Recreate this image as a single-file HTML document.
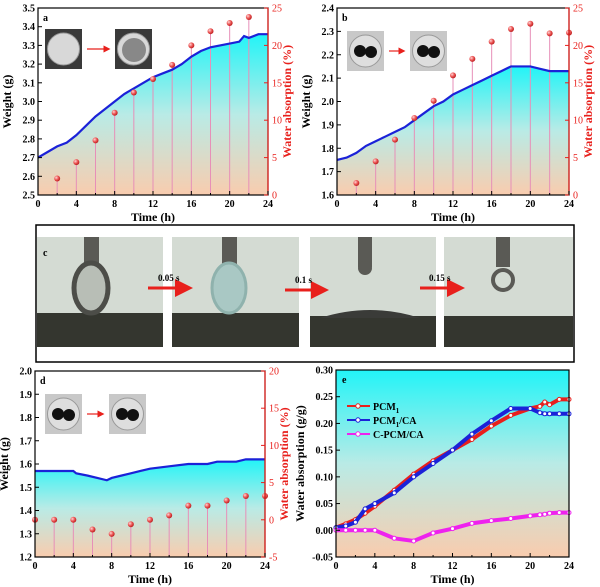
<!DOCTYPE html>
<html><head><meta charset="utf-8"><style>
body{margin:0;background:#fff;}
svg{display:block;font-family:"Liberation Serif",serif;}
</style></head><body>
<svg id="fig" width="600" height="587" viewBox="0 0 600 587" xmlns="http://www.w3.org/2000/svg">
<defs>
<linearGradient id="gA" x1="0" y1="0" x2="0" y2="1"><stop offset="0" stop-color="#22f4f7"/><stop offset="0.5" stop-color="#b9ebe6"/><stop offset="1" stop-color="#f9ccae"/></linearGradient>
<radialGradient id="ball" cx="0.35" cy="0.35" r="0.7"><stop offset="0" stop-color="#ffd6d6"/><stop offset="0.5" stop-color="#ee5a5a"/><stop offset="1" stop-color="#b81818"/></radialGradient>
<marker id="ah" markerWidth="6" markerHeight="6" refX="3" refY="3" orient="auto"><path d="M0,0 L6,3 L0,6 z" fill="#e8201c"/></marker>
</defs>
<g id="panelC">
<rect x="36" y="225" width="538" height="137" fill="#fff" stroke="#000" stroke-width="1.5"/>
<g><rect x="37" y="237" width="126" height="110" fill="#d4dbd3"/><rect x="37" y="313" width="126" height="34" fill="#34362f"/><rect x="84" y="237" width="15" height="32" fill="#5a5a55"/><ellipse cx="91" cy="288" rx="17" ry="25" fill="#b8beb6" stroke="#4c4d48" stroke-width="5"/></g>
<g><rect x="172" y="237" width="127" height="110" fill="#d4dbd3"/><rect x="172" y="313" width="127" height="34" fill="#34362f"/><rect x="222" y="237" width="15" height="32" fill="#5a5a55"/><ellipse cx="229" cy="288" rx="17" ry="25" fill="#a9c8c4" stroke="#8fb2ad" stroke-width="3"/></g>
<g><rect x="310" y="237" width="126" height="110" fill="#d4dbd3"/><rect x="310" y="316" width="126" height="31" fill="#34362f"/><path d="M320,318 Q370,302 420,318 Z" fill="#3a3b38"/><rect x="358" y="237" width="14" height="30" fill="#5a5a55"/><circle cx="365" cy="268" r="7" fill="#5a5a55"/></g>
<g><rect x="444" y="237" width="129" height="110" fill="#d4dbd3"/><rect x="444" y="316" width="129" height="31" fill="#34362f"/><rect x="496" y="237" width="14" height="30" fill="#5a5a55"/><circle cx="503" cy="280" r="10" fill="none" stroke="#5a5a55" stroke-width="4"/></g>
<text x="43" y="256" font-size="10" font-weight="bold">c</text>
<line x1="148" y1="288" x2="184" y2="288" stroke="#e8201c" stroke-width="3" marker-end="url(#ah)"/>
<text x="158" y="281" font-size="9" font-weight="bold">0.05 s</text>
<line x1="285" y1="290" x2="320" y2="290" stroke="#e8201c" stroke-width="3" marker-end="url(#ah)"/>
<text x="295" y="283" font-size="9" font-weight="bold">0.1 s</text>
<line x1="420" y1="288" x2="456" y2="288" stroke="#e8201c" stroke-width="3" marker-end="url(#ah)"/>
<text x="429" y="281" font-size="9" font-weight="bold">0.15 s</text>
</g>
</svg>
<script>
// Panel a
const aTime=[0,1,2,3,4,5,6,7,8,9,10,11,12,13,14,15,16,17,18,19,20,21,21.5,22,23,24];
const aWeight=[2.70,2.73,2.76,2.78,2.82,2.87,2.92,2.96,3.00,3.04,3.07,3.10,3.13,3.15,3.17,3.20,3.24,3.27,3.29,3.30,3.31,3.32,3.35,3.34,3.36,3.36];
const aAbsTime=[2,4,6,8,10,12,14,16,18,20,22];
const aAbs=[2.2,4.4,7.3,11.0,13.7,15.5,17.4,20.0,21.9,23.0,23.8];
const aYTicks=[2.5,2.6,2.7,2.8,2.9,3.0,3.1,3.2,3.3,3.4,3.5];
const aRTicks=[0,5,10,15,20,25];
// Panel b
const bTime=[0,1,2,3,4,5,6,7,8,9,10,11,12,13,14,15,16,17,18,19,20,21,22,24];
const bWeight=[1.75,1.76,1.78,1.81,1.83,1.85,1.87,1.89,1.92,1.95,1.98,2.00,2.03,2.05,2.07,2.09,2.11,2.13,2.15,2.15,2.15,2.14,2.13,2.13];
const bAbsTime=[2,4,6,8,10,12,14,16,18,20,22,24];
const bAbs=[1.6,4.5,7.4,10.3,12.6,16.0,18.2,20.5,22.2,22.9,21.6,21.7];
const bYTicks=[1.6,1.7,1.8,1.9,2.0,2.1,2.2,2.3,2.4];
const bRTicks=[0,5,10,15,20,25];
// Panel d
const dTime=[0,4,4.3,5.5,6.5,7.5,8,9,10,11,12,14,16,18,19,21,22,24];
const dWeight=[1.57,1.57,1.56,1.55,1.54,1.53,1.54,1.55,1.56,1.57,1.58,1.59,1.60,1.60,1.61,1.61,1.62,1.62];
const dAbsTime=[0,2,4,6,8,10,12,14,16,18,20,22,24];
const dAbs=[0,0,0,-1.3,-1.9,-0.6,0,0.6,1.9,1.9,2.6,3.2,3.2];
const dYTicks=[1.2,1.3,1.4,1.5,1.6,1.7,1.8,1.9,2.0];
const dRTicks=[-5,0,5,10,15,20];
// Panel e
const eTime=[0,1,2,3,4,6,8,10,12,14,16,18,20,21,21.5,22,23,24];
const ePCM1=[0.005,0.012,0.02,0.032,0.045,0.075,0.105,0.13,0.15,0.17,0.195,0.215,0.228,0.232,0.24,0.235,0.245,0.245];
const ePCM1CA=[0.005,0.008,0.015,0.04,0.05,0.07,0.10,0.125,0.15,0.18,0.205,0.228,0.228,0.22,0.218,0.218,0.218,0.218];
const eCPCM=[0,0,0,0,0,-0.015,-0.02,-0.005,0.003,0.013,0.018,0.022,0.027,0.029,0.03,0.032,0.033,0.033];
const eYTicks=[-0.05,0.00,0.05,0.10,0.15,0.20,0.25,0.30];
const xTicks=[0,4,8,12,16,20,24];

const NS="http://www.w3.org/2000/svg";
const svg=document.getElementById('fig');
function mk(tag,attrs,parent){const e=document.createElementNS(NS,tag);for(const k in attrs)e.setAttribute(k,attrs[k]);(parent||svg).appendChild(e);return e;}
function scale(d0,d1,r0,r1){return v=>r0+(v-d0)*(r1-r0)/(d1-d0);}

function frame(g,L,R,T,B,xs,ys,yTicks,yFmt){
  xTicks.forEach(t=>{
    const tk=mk('line',{x1:xs(t),x2:xs(t),y1:B,y2:B-4,stroke:'#000','stroke-width':1},g);
    
    
    const lb=mk('text',{x:xs(t),y:B+12,'font-size':10,'font-weight':'bold','text-anchor':'middle'},g);
    lb.textContent=t;
    
    
  });
  for(let t=2;t<24;t+=4){mk('line',{x1:xs(t),x2:xs(t),y1:B,y2:B-2,stroke:'#000','stroke-width':1},g);}
  yTicks.forEach(t=>{
    mk('line',{x1:L,x2:L+4,y1:ys(t),y2:ys(t),stroke:'#000','stroke-width':1},g);
    const lb=mk('text',{x:L-3,y:ys(t)+3.5,'font-size':10,'font-weight':'bold','text-anchor':'end'},g);
    lb.textContent=yFmt(t);
    
    
  });
  const xt=mk('text',{x:(L+R)/2,y:B+26,'font-size':12,'font-weight':'bold','text-anchor':'middle'},g);
  xt.textContent='Time (h)';
  
  
}

function weightPanel(name,L,R,T,B,time,weight,absT,abs,yTicks,rTicks,label,inset){
  const g=mk('g',{});
  
  
  const xs=scale(0,24,L,R), ys=scale(yTicks[0],yTicks[yTicks.length-1],B,T), rs=scale(rTicks[0],rTicks[rTicks.length-1],B,T);
  let d='M'+xs(time[0])+','+B;
  time.forEach((t,i)=>d+=' L'+xs(t)+','+ys(weight[i]));
  d+=' L'+xs(time[time.length-1])+','+B+' Z';
  const f=mk('path',{d:d,fill:'url(#gA)'},g);
  
  
  absT.forEach((t,i)=>{
    const s=mk('line',{x1:xs(t),x2:xs(t),y1:rs(abs[i]),y2:B,stroke:'#e78fb8','stroke-width':1},g);
    
    
  });
  let ld='';time.forEach((t,i)=>ld+=(i?' L':'M')+xs(t)+','+ys(weight[i]));
  const ln=mk('path',{d:ld,fill:'none',stroke:'#1b22d8','stroke-width':2.2},g);
  
  
  absT.forEach((t,i)=>{
    const c=mk('circle',{cx:xs(t),cy:rs(abs[i]),r:3,fill:'url(#ball)'},g);
    
    
  });
  mk('rect',{x:L,y:T,width:R-L,height:B-T,fill:'none',stroke:'#000','stroke-width':1.2},g);
  mk('line',{x1:R,x2:R,y1:T,y2:B,stroke:'#e8201c','stroke-width':1.2},g);
  frame(g,L,R,T,B,xs,ys,yTicks,v=>v.toFixed(1));
  rTicks.forEach(t=>{
    mk('line',{x1:R,x2:R-4,y1:rs(t),y2:rs(t),stroke:'#e8201c','stroke-width':1},g);
    const lb=mk('text',{x:R+4,y:rs(t)+3.5,'font-size':10,fill:'#e8201c'},g);
    lb.textContent=t;
    
    
  });
  const yt=mk('text',{x:0,y:0,'font-size':12,'font-weight':'bold','text-anchor':'middle',transform:'translate('+(L-27)+','+((T+B)/2)+') rotate(-90)'},g);
  yt.textContent='Weight (g)';
  
  
  const rt=mk('text',{x:0,y:0,'font-size':12,'font-weight':'bold',fill:'#e8201c','text-anchor':'middle',transform:'translate('+(R+23)+','+((T+B)/2)+') rotate(-90)'},g);
  rt.textContent='Water absorption (%)';
  
  
  const pl=mk('text',{x:L+5,y:T+13,'font-size':10,'font-weight':'bold'},g);
  pl.textContent=label;
  
  
  inset.forEach((ins,k)=>{
    const ig=mk('g',{},g);
    
    
    mk('rect',{x:ins[0],y:ins[1],width:37,height:40,fill:ins[2]?'#c8c8c8':'#3a3a3a'},ig);
    mk('circle',{cx:ins[0]+18.5,cy:ins[1]+20,r:16,fill:ins[2]?'#dedede':'#d8d8d8',stroke:'#999'},ig);
    if(ins[2]){mk('circle',{cx:ins[0]+13,cy:ins[1]+20,r:6,fill:'#111'},ig);mk('circle',{cx:ins[0]+24,cy:ins[1]+21,r:6,fill:'#111'},ig);}
    else if(k==1){mk('circle',{cx:ins[0]+19,cy:ins[1]+21,r:12,fill:'#888'},ig);}
  });
  const a0=inset[0][0]+42,a1=inset[1][0]-5,ay=inset[0][1]+20;
  mk('line',{x1:a0,x2:a1-3,y1:ay,y2:ay,stroke:'#e8201c','stroke-width':1.2,'marker-end':'url(#ah)'},g);
}

weightPanel('panel-a',38,268,8,195,aTime,aWeight,aAbsTime,aAbs,aYTicks,aRTicks,'a',[[45,29,false],[115,29,false]]);
weightPanel('panel-b',337,569,8,195,bTime,bWeight,bAbsTime,bAbs,bYTicks,bRTicks,'b',[[347,31,true],[410,31,true]]);
weightPanel('panel-d',35,265,371,557,dTime,dWeight,dAbsTime,dAbs,dYTicks,dRTicks,'d',[[45,394,true],[109,394,true]]);

(function(){
  const L=336,R=569,T=370,B=557;
  const g=mk('g',{});
  
  
  const xs=scale(0,24,L,R), ys=scale(-0.05,0.30,B,T);
  const bg=mk('rect',{x:L,y:T,width:R-L,height:B-T,fill:'url(#gA)'},g);
  
  
  const series=[[ePCM1,'#e8201c','series-pcm1'],[ePCM1CA,'#1b22d8','series-pcm1-ca'],[eCPCM,'#ee22ee','series-c-pcm-ca']];
  series.forEach(s=>{
    let d='';eTime.forEach((t,i)=>d+=(i?' L':'M')+xs(t)+','+ys(s[0][i]));
    const p=mk('path',{d:d,fill:'none',stroke:s[1],'stroke-width':4},g);
    
    
    eTime.forEach((t,i)=>{
      const c=mk('circle',{cx:xs(t),cy:ys(s[0][i]),r:2,fill:'#fff',stroke:s[1],'stroke-width':1},g);
      
      
    });
  });
  mk('rect',{x:L,y:T,width:R-L,height:B-T,fill:'none',stroke:'#000','stroke-width':1.2},g);
  frame(g,L,R,T,B,xs,ys,eYTicks,v=>v.toFixed(2));
  const yt=mk('text',{x:0,y:0,'font-size':12,'font-weight':'bold','text-anchor':'middle',transform:'translate('+(L-32)+','+((T+B)/2)+') rotate(-90)'},g);
  yt.textContent='Water absorption (g/g)';
  
  
  const pl=mk('text',{x:L+6,y:T+13,'font-size':10,'font-weight':'bold'},g);
  pl.textContent='e';
  
  
  const leg=[['PCM','1','','#e8201c'],['PCM','1','/CA','#1b22d8'],['C-PCM/CA','','','#ee22ee']];
  leg.forEach((l,i)=>{
    const y=406+i*14;
    const lg=mk('g',{},g);
    
    
    mk('line',{x1:347,x2:370,y1:y,y2:y,stroke:l[3],'stroke-width':2},lg);
    mk('circle',{cx:358,cy:y,r:2.2,fill:'#fff',stroke:l[3]},lg);
    const t=mk('text',{x:373,y:y+4,'font-size':10,'font-weight':'bold'},lg);
    t.textContent=l[0];
    if(l[1]){const s=mk('tspan',{'font-size':7,dy:3},t);s.textContent=l[1];}
    if(l[2]){const s=mk('tspan',{dy:-3},t);s.textContent=l[2];}
  });
})();
</script>
</body></html>
